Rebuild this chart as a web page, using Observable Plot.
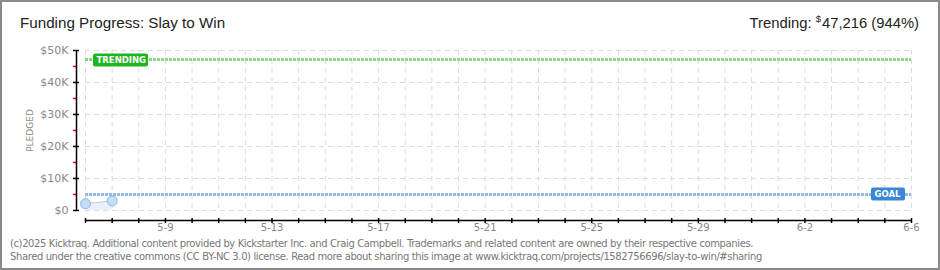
<!DOCTYPE html>
<html><head><meta charset="utf-8">
<script src="https://cdn.jsdelivr.net/npm/d3@7"></script>
<script src="https://cdn.jsdelivr.net/npm/@observablehq/plot@0.6"></script>
<style>
html,body{margin:0;padding:0;background:#fff;}
#wrap{position:relative;width:940px;height:270px;overflow:hidden;font-family:"Liberation Sans",Arial,sans-serif;}
#border{position:absolute;left:0;top:0;width:940px;height:270px;box-sizing:border-box;border:2px solid #8a8a8a;pointer-events:none;}
#title{position:absolute;left:20px;top:14px;font-size:15.2px;color:#222;}
#trend{position:absolute;right:21px;top:13px;font-size:14.8px;color:#222;}
#trend sup{font-size:9.5px;vertical-align:6px;margin-right:1px;}
#chart{position:absolute;left:0;top:38px;}
#foot{position:absolute;left:10px;top:237px;font-size:10px;line-height:13px;color:#777;font-family:"DejaVu Sans",sans-serif;letter-spacing:-0.39px;}
</style></head>
<body><div id="wrap">
<div id="title">Funding Progress: Slay to Win</div>
<div id="trend">Trending: <sup>$</sup>47,216 (944%)</div>
<div id="chart"></div>
<div id="foot">(c)2025 Kicktraq. Additional content provided by Kickstarter Inc. and Craig Campbell. Trademarks and related content are owned by their respective companies.<br>Shared under the creative commons (CC BY-NC 3.0) license. Read more about sharing this image at www.kicktraq.com/projects/1582756696/slay-to-win/#sharing</div>
<div id="border"></div>
</div>
<script>
const dates = ["2025-05-06", "2025-05-07"];
const pledged = [2100, 3000];
const goal = 5000;
const trending = 47216;
const domainStart = "2025-05-06";
const domainEnd = "2025-06-06";
const yMajor = [0, 10000, 20000, 30000, 40000, 50000];
const yMinor = [5000, 15000, 25000, 35000, 45000];
const labelDates = ["2025-05-09","2025-05-13","2025-05-17","2025-05-21","2025-05-25","2025-05-29","2025-06-02","2025-06-06"];

const P = d3.utcParse("%Y-%m-%d");
const data = dates.map((d, i) => ({date: P(d), value: pledged[i]}));
const x0 = P(domainStart), x1 = P(domainEnd);
const allDays = d3.utcDay.range(x0, d3.utcDay.offset(x1, 1));
const lblDays = labelDates.map(P);
const fmtY = d => d === 0 ? "$0" : "$" + d / 1000 + "K";

const chart = Plot.plot({
  width: 940, height: 194,
  marginLeft: 85, marginRight: 29, marginTop: 12, marginBottom: 22,
  style: {fontFamily: "'DejaVu Sans', sans-serif", fontSize: "10px", color: "#888", background: "transparent"},
  x: {type: "utc", domain: [x0, x1]},
  y: {domain: [0, 50000]},
  marks: [
    Plot.gridX(allDays, {stroke: "#dcdcdc", strokeOpacity: 1, strokeDasharray: "5,4"}),
    Plot.gridY(yMajor, {stroke: "#dcdcdc", strokeOpacity: 1, strokeDasharray: "5,4"}),
    Plot.areaY(data, {x: "date", y: "value", fill: "#e8f1fc"}),
    Plot.ruleY([goal], {x1: x0, x2: x1, stroke: "#93b9e8", strokeWidth: 3, strokeDasharray: "3,1"}),
    Plot.ruleY([trending], {x1: x0, x2: x1, stroke: "#8fd787", strokeWidth: 3, strokeDasharray: "3,1"}),
    Plot.lineY(data, {x: "date", y: "value", stroke: "#b5d1f1", strokeWidth: 1}),
    Plot.dot(data, {x: "date", y: "value", r: 5, fill: "#c7dcf5", stroke: "#8db6e6", strokeWidth: 1}),
    // trending label
    Plot.rect([trending], {x1: x0, x2: x0, y1: d => d, y2: d => d, insetLeft: 8, insetRight: -63, insetTop: -5.5, insetBottom: -7.5, rx: 2, fill: "#1fb51f"}),
    Plot.text([trending], {x: x0, y: d => d, text: () => "TRENDING", dx: 11, dy: 0.5, textAnchor: "start", fill: "white", fontSize: 8.5, fontWeight: "bold", letterSpacing: 0.2}),
    // goal label
    Plot.rect([goal], {x1: x1, x2: x1, y1: d => d, y2: d => d, insetLeft: -40, insetRight: 6, insetTop: -6.5, insetBottom: -6.5, rx: 2, fill: "#3b86d8"}),
    Plot.text([goal], {x: x1, y: d => d, text: () => "GOAL", dx: -37, dy: 0, textAnchor: "start", fill: "white", fontSize: 8.5, fontWeight: "bold", letterSpacing: 0.4}),
    // y axis
    Plot.ruleX([x0], {y1: 0, y2: 50000, dx: -9, stroke: "#000", strokeWidth: 1.5}),
    Plot.axisY({ticks: yMajor, tickSize: 6, dx: -6, tickFormat: () => "", label: null, stroke: "#000", strokeWidth: 1.5}),
    Plot.axisY({ticks: yMinor, tickSize: 3, dx: -9, tickFormat: () => "", label: null, stroke: "#e00000", strokeWidth: 1.5}),
    Plot.axisY({ticks: yMajor, tickSize: 0, tickPadding: 17, tickFormat: fmtY, label: null, fill: "#888", fontSize: 11}),
    Plot.text(["PLEDGED"], {frameAnchor: "left", textAnchor: "middle", rotate: -90, dx: -55, fill: "#888", fontSize: 9, letterSpacing: 2}),
    // x axis
    Plot.ruleY([0], {x1: x0, x2: x1, dy: 10, stroke: "#000", strokeWidth: 1.5}),
    Plot.axisX({ticks: allDays, tickSize: 5, dy: 8, tickFormat: () => "", label: null, stroke: "#000", strokeWidth: 1.5}),
    Plot.axisX({ticks: lblDays, tickSize: 0, tickPadding: 13, tickFormat: d3.utcFormat("%-m-%-d"), label: null, fill: "#888", fontSize: 10, letterSpacing: 0.8})
  ]
});
document.getElementById("chart").append(chart);
</script>
</body></html>
